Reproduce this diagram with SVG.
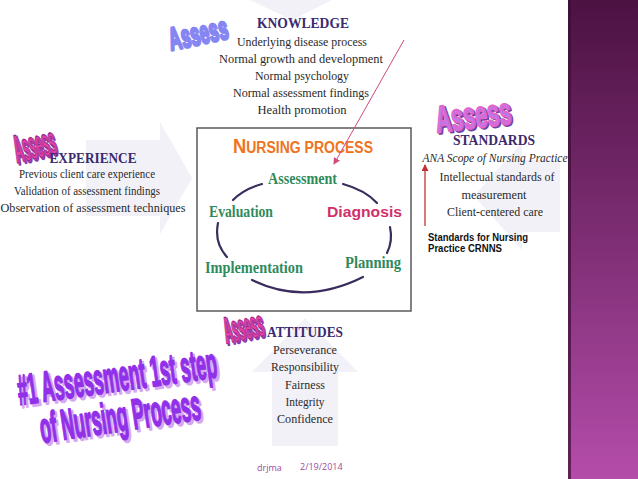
<svg xmlns="http://www.w3.org/2000/svg" width="638" height="479" viewBox="0 0 638 479">
<defs>
<linearGradient id="bar" x1="0" y1="0" x2="0" y2="1">
<stop offset="0" stop-color="#4c1242"/>
<stop offset="0.5" stop-color="#7e2e74"/>
<stop offset="1" stop-color="#b44caa"/>
</linearGradient>
<marker id="pinkHead" markerWidth="7" markerHeight="7" refX="6" refY="3.5" orient="auto" markerUnits="userSpaceOnUse"><path d="M0,0 L7,3.5 L0,7 z" fill="#d04a80"/></marker>
<marker id="redHead" markerWidth="7" markerHeight="7" refX="6" refY="3.5" orient="auto" markerUnits="userSpaceOnUse"><path d="M0,0 L7,3.5 L0,7 z" fill="#c03434"/></marker>
</defs>
<style>
.head{font-family:"Liberation Serif","Times New Roman",serif;font-size:15px;font-weight:bold;fill:#3b2a6e;text-anchor:middle}
.body{font-family:"Liberation Serif","Times New Roman",serif;font-size:13.5px;fill:#2a2a2a;text-anchor:middle}
.np{font-family:"Liberation Serif","Times New Roman",serif;font-size:16px;font-weight:bold;fill:#2f8a5c}
.arc{fill:none;stroke:#3a2c5c;stroke-width:2.2;stroke-linecap:round}
.wa{font-family:"Liberation Sans Narrow","Liberation Sans",sans-serif;font-weight:bold;text-anchor:middle;stroke-linejoin:round}
.bg{fill:#f2f1f8}
.pinkwa{fill:#e8409c;stroke:#e8409c;stroke-width:1;}
.pinkol{fill:none;stroke:#7a2c9c;stroke-width:0.5}
.pinksh{fill:#8c3cae;stroke:#8c3cae;stroke-width:1.6}
.ttlsh{fill:#d7a8f2;stroke:#d7a8f2;stroke-width:2}
.ttl{fill:#9030e8;stroke:#9030e8;stroke-width:1.3}
.foot{font-family:"Open Sans","Liberation Sans",sans-serif;font-size:9px;fill:#a04a9a}
</style>
<rect x="0" y="0" width="638" height="479" fill="#ffffff"/>

<g id="background">
<polygon class="bg" points="250,0 332,0 292,20"/>
<polygon class="bg" points="86,140 160,140 160,122 192,178 160,234 160,216 86,216"/>
<polygon class="bg" points="560,160 522,160 522,142 474,196 522,250 522,232 560,232"/>
<polygon class="bg" points="272,446 338,446 338,372 358,372 305,318 252,372 272,372"/>
</g>

<g id="sidebar">
<rect x="568" y="0" width="70" height="479" fill="url(#bar)"/>
<rect x="568" y="0" width="3" height="479" fill="#3a0e34" opacity="0.7"/>
</g>

<g id="knowledge">
<g transform="translate(198,33) rotate(-12) scale(1,1.45)">
<text class="wa" x="0" y="8" font-size="22" textLength="60" lengthAdjust="spacingAndGlyphs" fill="#8686f2" stroke="#8686f2" stroke-width="2">Assess</text>
</g>
<text class="head" x="303" y="28" textLength="92" lengthAdjust="spacingAndGlyphs">KNOWLEDGE</text>
<text class="body" x="302" y="46" textLength="130" lengthAdjust="spacingAndGlyphs">Underlying disease process</text>
<text class="body" x="301" y="63" textLength="164" lengthAdjust="spacingAndGlyphs">Normal growth and development</text>
<text class="body" x="302" y="80" textLength="94" lengthAdjust="spacingAndGlyphs">Normal psychology</text>
<text class="body" x="301" y="97" textLength="136" lengthAdjust="spacingAndGlyphs">Normal assessment findings</text>
<text class="body" x="302" y="114" textLength="89" lengthAdjust="spacingAndGlyphs">Health promotion</text>
</g>

<g id="experience">
<g transform="translate(34,144) rotate(-14) scale(1,1.8)">
<text class="wa pinksh" x="1.2" y="9" font-size="22" textLength="42" lengthAdjust="spacingAndGlyphs">Assess</text>
<text class="wa pinkwa" x="0" y="8" font-size="22" textLength="42" lengthAdjust="spacingAndGlyphs">Assess</text>
<text class="wa pinkol" x="0" y="8" font-size="22" textLength="42" lengthAdjust="spacingAndGlyphs">Assess</text>
</g>
<text class="head" x="93" y="163" textLength="87" lengthAdjust="spacingAndGlyphs">EXPERIENCE</text>
<text class="body" x="87" y="178" textLength="136" lengthAdjust="spacingAndGlyphs">Previous client care experience</text>
<text class="body" x="87" y="195" textLength="146" lengthAdjust="spacingAndGlyphs">Validation of assessment findings</text>
<text class="body" x="93" y="212" textLength="185" lengthAdjust="spacingAndGlyphs">Observation of assessment techniques</text>
</g>

<g id="standards">
<g transform="translate(473,114) rotate(-7) scale(1,1.55)">
<text class="wa" x="1.5" y="10" font-size="24" textLength="76" lengthAdjust="spacingAndGlyphs" fill="#6e44a8" stroke="#6e44a8" stroke-width="1.6">Assess</text>
<text class="wa" x="0" y="9" font-size="24" textLength="76" lengthAdjust="spacingAndGlyphs" fill="#b47af0" stroke="#e466cc" stroke-width="1.4">Assess</text>
</g>
<text class="head" x="494" y="145" textLength="82" lengthAdjust="spacingAndGlyphs">STANDARDS</text>
<text class="body" x="495" y="162" font-style="italic" textLength="145" lengthAdjust="spacingAndGlyphs">ANA Scope of Nursing Practice</text>
<text class="body" x="497" y="181" textLength="115" lengthAdjust="spacingAndGlyphs">Intellectual standards of</text>
<text class="body" x="494" y="199" textLength="65" lengthAdjust="spacingAndGlyphs">measurement</text>
<text class="body" x="495" y="216" textLength="96" lengthAdjust="spacingAndGlyphs">Client-centered care</text>
<text x="428" y="241" font-family="Liberation Sans, Arial, sans-serif" font-size="10" font-weight="bold" fill="#111" textLength="100" lengthAdjust="spacingAndGlyphs">Standards for Nursing</text>
<text x="428" y="252" font-family="Liberation Sans, Arial, sans-serif" font-size="10" font-weight="bold" fill="#111" textLength="74" lengthAdjust="spacingAndGlyphs">Practice CRNNS</text>
</g>

<g id="attitudes">
<g transform="translate(243,326) rotate(-12) scale(1,1.7)">
<text class="wa pinksh" x="1.2" y="9" font-size="22" textLength="40" lengthAdjust="spacingAndGlyphs">Assess</text>
<text class="wa pinkwa" x="0" y="8" font-size="22" textLength="40" lengthAdjust="spacingAndGlyphs">Assess</text>
<text class="wa pinkol" x="0" y="8" font-size="22" textLength="40" lengthAdjust="spacingAndGlyphs">Assess</text>
</g>
<text class="head" x="305" y="337" textLength="76" lengthAdjust="spacingAndGlyphs">ATTITUDES</text>
<text class="body" x="305" y="354" textLength="64" lengthAdjust="spacingAndGlyphs">Perseverance</text>
<text class="body" x="305" y="371" textLength="68" lengthAdjust="spacingAndGlyphs">Responsibility</text>
<text class="body" x="305" y="389" textLength="40" lengthAdjust="spacingAndGlyphs">Fairness</text>
<text class="body" x="305" y="406" textLength="39" lengthAdjust="spacingAndGlyphs">Integrity</text>
<text class="body" x="305" y="423" textLength="56" lengthAdjust="spacingAndGlyphs">Confidence</text>
</g>

<g id="nursing-process">
<rect x="197" y="128" width="214" height="183" fill="#ffffff" stroke="#5a5a5a" stroke-width="1.5"/>
<text x="233" y="153" font-family="Liberation Sans, Arial, sans-serif" font-weight="bold" fill="#ee7420" textLength="140" lengthAdjust="spacingAndGlyphs"><tspan font-size="21">N</tspan><tspan font-size="16">URSING PROCESS</tspan></text>
<text class="np" x="268" y="184" textLength="69" lengthAdjust="spacingAndGlyphs">Assessment</text>
<text class="np" x="209" y="217" textLength="64" lengthAdjust="spacingAndGlyphs">Evaluation</text>
<text x="327" y="217" font-family="Liberation Sans, Arial, sans-serif" font-size="15" font-weight="bold" fill="#d0306a" textLength="75" lengthAdjust="spacingAndGlyphs">Diagnosis</text>
<text class="np" x="205" y="273" textLength="98" lengthAdjust="spacingAndGlyphs">Implementation</text>
<text class="np" x="345" y="268" textLength="56" lengthAdjust="spacingAndGlyphs">Planning</text>
</g>

<g id="connectors">
<path class="arc" d="M233,200 Q244,189 262,184"/>
<path class="arc" d="M343,184 Q365,190 377,203"/>
<path class="arc" d="M390,227 Q393,241 387,253"/>
<path class="arc" d="M218,223 Q214,243 227,257"/>
<path class="arc" d="M252,280 Q305,306 363,277"/>
<line x1="404" y1="40" x2="334" y2="164" stroke="#d04a80" stroke-width="1" marker-end="url(#pinkHead)"/>
<line x1="425" y1="226" x2="425" y2="165" stroke="#c03434" stroke-width="1.3" marker-end="url(#redHead)"/>
</g>

<g id="title">
<g transform="translate(20,405) rotate(-8) scale(1,1.3)">
<text class="wa ttlsh" x="102" y="2" font-size="33" textLength="201" lengthAdjust="spacingAndGlyphs">#1 Assessment 1st step</text>
<text class="wa ttl" x="100" y="0" font-size="33" textLength="201" lengthAdjust="spacingAndGlyphs">#1 Assessment 1st step</text>
</g>
<g transform="translate(42,443) rotate(-8.5) scale(1,1.3)">
<text class="wa ttlsh" x="83" y="2" font-size="33" textLength="162" lengthAdjust="spacingAndGlyphs">of Nursing Process</text>
<text class="wa ttl" x="81" y="0" font-size="33" textLength="162" lengthAdjust="spacingAndGlyphs">of Nursing Process</text>
</g>
</g>

<g id="footer">
<text class="foot" x="257" y="471">drjma</text>
<text class="foot" x="300" y="470">2/19/2014</text>
</g>
</svg>
